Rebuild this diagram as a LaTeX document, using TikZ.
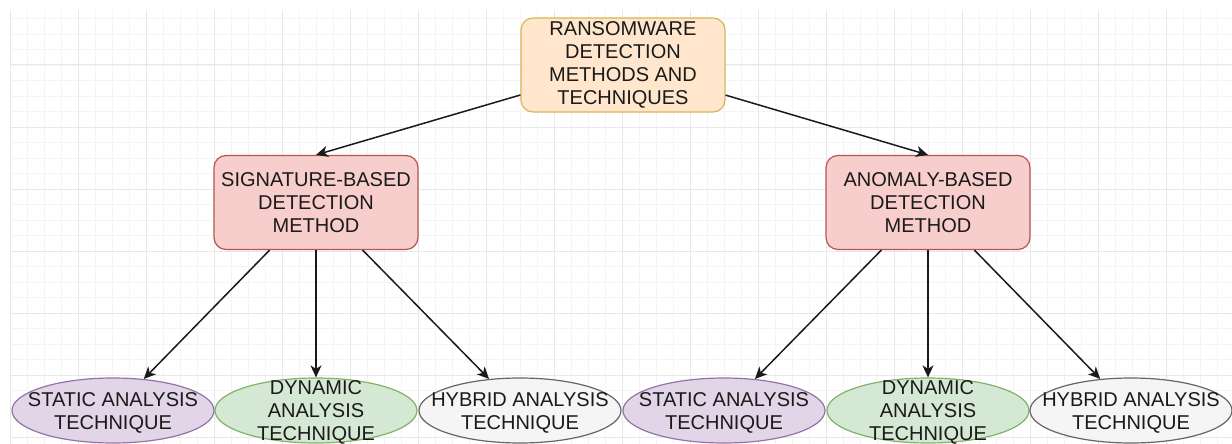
\documentclass[tikz,border=0pt]{standalone}
\usepackage{fontspec}
\setmainfont{Liberation Sans}
\usetikzlibrary{shapes.geometric,arrows.meta}

\definecolor{inkc}{HTML}{1A1A1A}
\definecolor{rootfill}{HTML}{FFE6CC}\definecolor{rootline}{HTML}{D6B656}
\definecolor{methfill}{HTML}{F8CECC}\definecolor{methline}{HTML}{B85450}
\definecolor{statfill}{HTML}{E1D5E7}\definecolor{statline}{HTML}{9673A6}
\definecolor{dynfill}{HTML}{D5E8D4}\definecolor{dynline}{HTML}{82B366}
\definecolor{hybfill}{HTML}{F5F5F5}\definecolor{hybline}{HTML}{666666}
\definecolor{gridminor}{HTML}{F4F4F4}
\definecolor{gridmajor}{HTML}{E8E8E8}

\tikzset{
  txt/.style={font=\fontsize{20}{23}\selectfont, text=inkc, align=center},
  boxnode/.style={txt, rectangle, rounded corners=12pt, line width=1.2pt,
    minimum width=204pt, minimum height=94pt, inner sep=0pt},
  rootbox/.style={boxnode, fill=rootfill, draw=rootline},
  methbox/.style={boxnode, fill=methfill, draw=methline},
  techbase/.style={ellipse, line width=1.2pt, minimum width=202pt,
    minimum height=65pt, inner sep=0pt},
  techtext/.style={label={[txt, yshift=-2pt]center:#1}},
  stat/.style={techbase, fill=statfill, draw=statline},
  dyn/.style={techbase, fill=dynfill, draw=dynline},
  hyb/.style={techbase, fill=hybfill, draw=hybline},
  conn/.style={draw=inkc, line width=1.5pt,
    -{Stealth[length=12pt, width=11pt, inset=3.5pt]}},
}

\begin{document}
\begin{tikzpicture}[x=1pt, y=-1pt]
\useasboundingbox (0,0) rectangle (1232,444);
\fill[white] (0,0) rectangle (1232,444);

% background grid
\begin{scope}
  \clip (10,10) rectangle (1232,444);
  \foreach \i in {0,...,72} {
    \draw[gridminor, line width=0.8pt] ({10+17*\i},10) -- ({10+17*\i},444);
  }
  \foreach \j in {0,...,28} {
    \draw[gridminor, line width=0.8pt] (10,{3+15.5*\j}) -- (1232,{3+15.5*\j});
  }
  \foreach \i in {0,...,18} {
    \draw[gridmajor, line width=1pt] ({10+68*\i},10) -- ({10+68*\i},444);
  }
  \foreach \j in {0,...,7} {
    \draw[gridmajor, line width=1pt] (10,{3+62*\j}) -- (1232,{3+62*\j});
  }
\end{scope}

% hierarchy
\node[rootbox] (root) at (623,65) {RANSOMWARE\\DETECTION\\METHODS AND\\TECHNIQUES};
\node[methbox] (sig) at (316,202.5) {SIGNATURE-BASED\\DETECTION\\METHOD};
\node[methbox] (ano) at (928,202.5) {ANOMALY-BASED\\DETECTION\\METHOD};

\node[stat, techtext={STATIC ANALYSIS\\TECHNIQUE}] (sst) at (113,410.5) {};
\node[dyn,  techtext={DYNAMIC\\ANALYSIS\\TECHNIQUE}] (sdy) at (316,410.5) {};
\node[hyb,  techtext={HYBRID ANALYSIS\\TECHNIQUE}] (shy) at (520,410.5) {};
\node[stat, techtext={STATIC ANALYSIS\\TECHNIQUE}] (ast) at (724,410.5) {};
\node[dyn,  techtext={DYNAMIC\\ANALYSIS\\TECHNIQUE}] (ady) at (928,410.5) {};
\node[hyb,  techtext={HYBRID ANALYSIS\\TECHNIQUE}] (ahy) at (1131,410.5) {};

% connectors
\draw[conn] (root) -- (sig.north);
\draw[conn] (root) -- (ano.north);
\draw[conn] (sig) -- (sst);
\draw[conn] (sig) -- (sdy);
\draw[conn] (sig) -- (shy);
\draw[conn] (ano) -- (ast);
\draw[conn] (ano) -- (ady);
\draw[conn] (ano) -- (ahy);
\end{tikzpicture}
\end{document}
